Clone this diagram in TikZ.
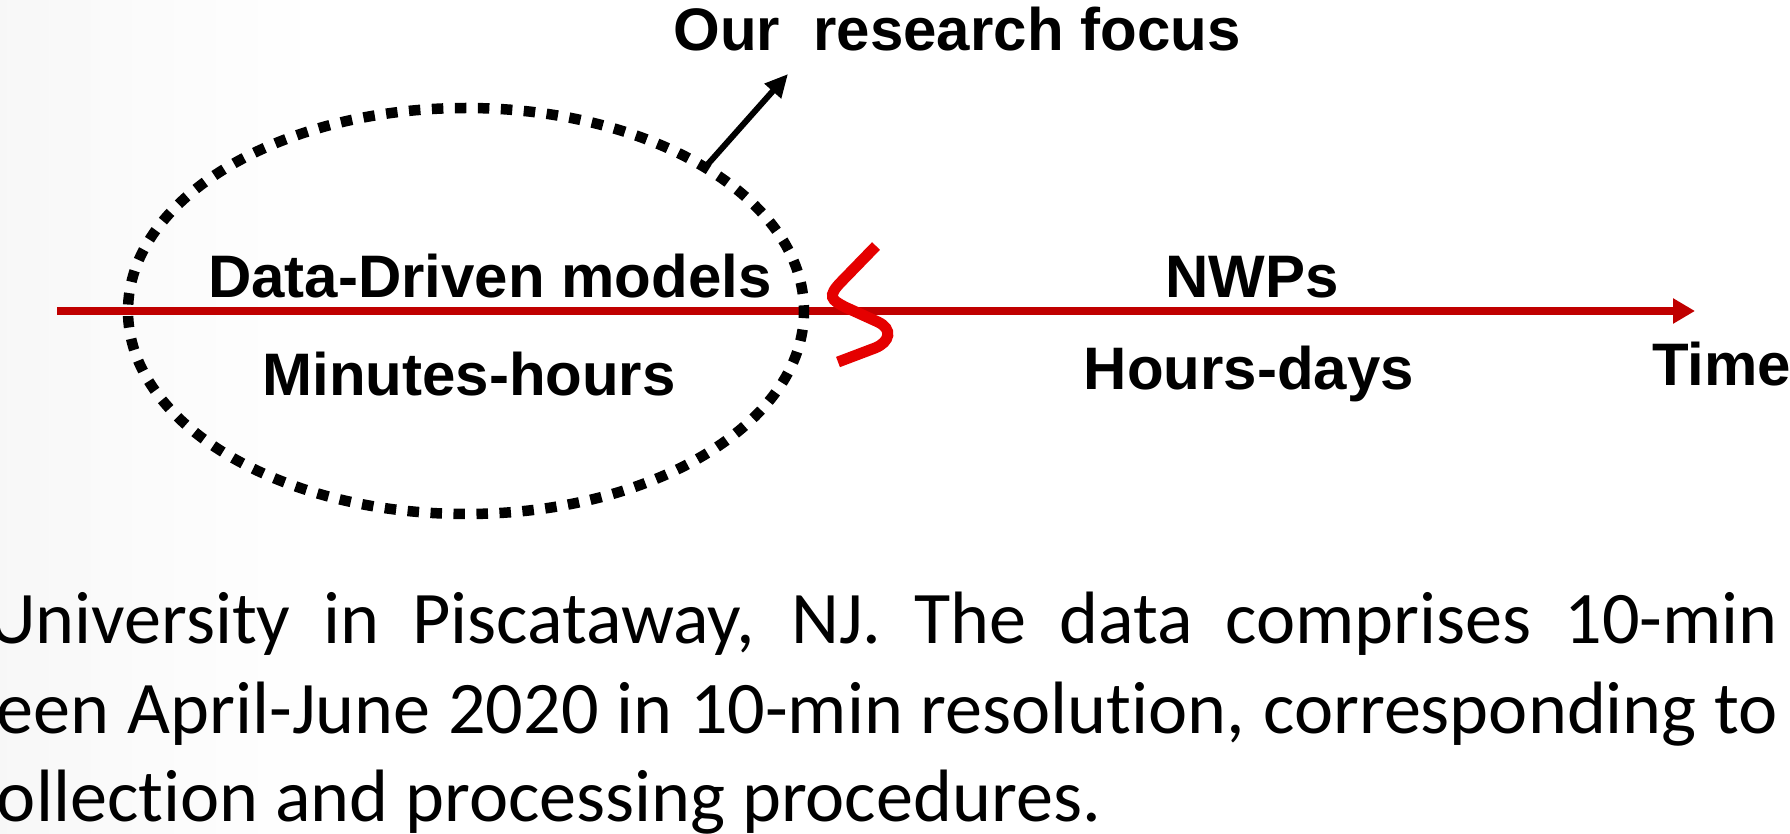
\documentclass[tikz,border=0pt]{standalone}
\usepackage{fontspec}
\setmainfont{Liberation Sans}
\newfontfamily\bodyfont{Carlito}[Ligatures={NoCommon,NoDiscretionary,NoContextual}]
\usetikzlibrary{arrows.meta,shapes.geometric}
\definecolor{axisred}{HTML}{C00000}
\definecolor{squiggle}{HTML}{E50000}
\tikzset{
  lbl/.style={font=\fontsize{60}{72}\selectfont\bfseries, inner sep=0pt, outer sep=0pt, anchor=base},
  bodytext/.style={font=\bodyfont\fontsize{74.2}{88}\selectfont, inner sep=0pt, outer sep=0pt, anchor=base west},
  timeaxis/.style={draw=axisred, line width=8pt, -{Triangle[length=22pt,width=24pt]}},
  pointer/.style={draw=black, line width=6pt, -{Triangle[length=23pt,width=21pt]}},
  focusring/.style={draw=black, ellipse, line width=10.5pt, dash pattern=on 11.5pt off 11.5pt, dash phase=5.75pt,
    minimum width=676pt, minimum height=406pt, inner sep=0pt, outer sep=0pt},
  wiggle/.style={draw=squiggle, line width=11pt, line cap=butt}
}
\begin{document}
\begin{tikzpicture}[x=1pt,y=-1pt]
  \useasboundingbox (0,0) rectangle (1790,834);
  \fill[white] (0,0) rectangle (1790,834);
  \shade[left color=black!3, right color=white] (0,0) rectangle (320,834);

  % time axis
  \coordinate (axl) at (57,311);
  \coordinate (axr) at (1695,311);
  \draw[timeaxis] (axl) -- (axr);

  % focus ellipse
  \node[focusring] (focus) at (466,311) {};

  % labels
  \node[lbl] (title) at (957,51) {Our\ \ research focus};
  \node[lbl] (dd) at (490,297) {Data-Driven models};
  \node[lbl] (mh) at (469,395) {Minutes-hours};
  \node[lbl] (nwp) at (1252,297) {NWPs};
  \node[lbl] (hd) at (1249,389) {Hours-days};
  \node[lbl, anchor=base west] (time) at (1652,385) {Time};

  % pointer arrow
  \coordinate (tip) at (788,74);
  \draw[pointer] (focus.31) -- (tip);

  % break mark
  \draw[wiggle] (876,246) -- (842,281) .. controls (826,297) and (832,300) .. (845,307)
     -- (878,322) .. controls (893,329) and (890,342) .. (875,348) -- (838,362);

  % body text
  \node[bodytext] (l1) at (-12,643) {\makebox[1790pt][s]{University in Piscataway, NJ. The data comprises 10-min}};
  \node[bodytext] (l2) at (-3,733) {\makebox[1781pt][s]{een April-June 2020 in 10-min resolution, corresponding to}};
  \node[bodytext] (l3) at (-3,821) {ollection and processing procedures.};
\end{tikzpicture}
\end{document}
